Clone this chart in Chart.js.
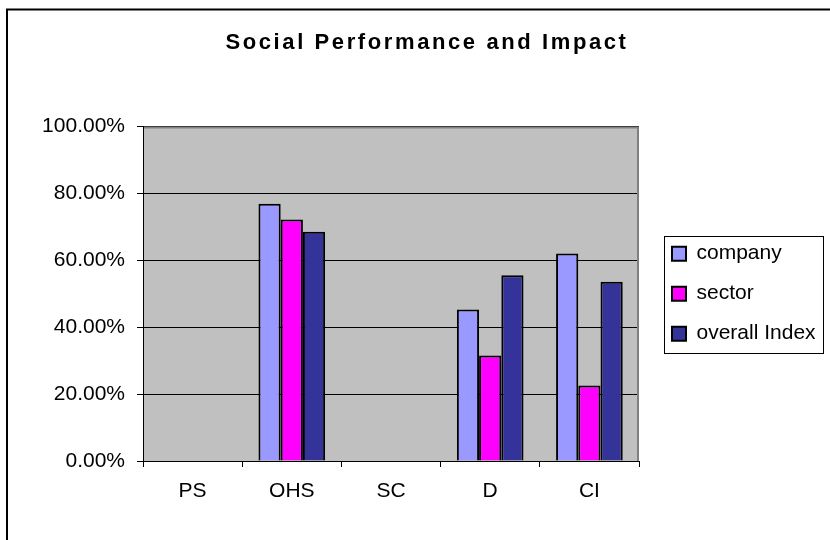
<!DOCTYPE html>
<html>
<head>
<meta charset="utf-8">
<title>Social Performance and Impact</title>
<script src="https://cdn.jsdelivr.net/npm/chart.js@4"></script>
<style>
  html, body { margin: 0; padding: 0; background: #fff; overflow: hidden; }
  #contenedor { width: 830px; height: 540px; }
</style>
</head>
<body>
<div id="contenedor"><canvas id="grafico"></canvas></div>
<script>
// Datos (en %)
const categorias = ['PS', 'OHS', 'SC', 'D', 'CI']
const valoresCompany = [null, 76.9, null, 45.3, 62.0]
const valoresSector = [null, 72.2, null, 31.5, 22.6]
const valoresOverall = [null, 68.5, null, 55.5, 53.6]
const ticksEjeY = [0, 20, 40, 60, 80, 100]

const fuente = '"Liberation Sans", Arial, sans-serif'
const anchoLeyenda = 191

Chart.defaults.color = '#000'
Chart.defaults.font.family = fuente
Chart.defaults.font.size = 21

// Fondo gris del area, marco exterior y borde de la leyenda
const marcoPlugin = {
  id: 'marco',
  afterInit(chart) {
    // el titulo de Excel sale con las letras separadas y algo a la derecha
    const dibujarTitulo = chart.titleBlock.draw.bind(chart.titleBlock)
    chart.titleBlock.draw = () => {
      chart.ctx.save()
      chart.ctx.translate(12, 0)
      chart.ctx.letterSpacing = '2.6px'
      dibujarTitulo()
      chart.ctx.letterSpacing = '0px'
      chart.ctx.restore()
    }
    const ajustarLeyenda = chart.legend.fit.bind(chart.legend)
    chart.legend.fit = () => {
      ajustarLeyenda()
      chart.legend.width = anchoLeyenda
    }
  },
  afterLayout(chart) {
    chart.legend.left += 14
    chart.legend.right += 14
  },
  beforeDraw(chart) {
    const { ctx, chartArea } = chart
    ctx.save()
    ctx.fillStyle = '#fff'
    ctx.fillRect(0, 0, chart.width, chart.height)
    ctx.strokeStyle = '#000'
    ctx.lineWidth = 2
    ctx.beginPath()
    ctx.moveTo(7, chart.height + 5)
    ctx.lineTo(7, 9.5)
    ctx.lineTo(chart.width + 5, 9.5)
    ctx.stroke()
    ctx.fillStyle = '#c0c0c0'
    ctx.fillRect(chartArea.left, chartArea.top, chartArea.width, chartArea.height)
    ctx.restore()
  },
  afterDraw(chart) {
    const { ctx, chartArea } = chart
    ctx.save()
    ctx.strokeStyle = '#808080'
    ctx.lineWidth = 2
    ctx.beginPath()
    ctx.moveTo(chartArea.left + 1, chartArea.top + 1)
    ctx.lineTo(chartArea.right - 1, chartArea.top + 1)
    ctx.lineTo(chartArea.right - 1, chartArea.bottom)
    ctx.stroke()
    const leyenda = chart.legend
    const centro = (leyenda.top + leyenda.bottom) / 2
    ctx.strokeStyle = '#000'
    ctx.lineWidth = 1
    ctx.strokeRect(leyenda.left + 11.5, Math.round(centro - 58) + 0.5, 159, 117)
    ctx.restore()
  }
}

function crearSerie(nombre, valores, color) {
  return {
    label: nombre,
    data: valores,
    backgroundColor: color,
    borderColor: '#000',
    borderWidth: 2,
    categoryPercentage: 0.672,
    barPercentage: 1
  }
}

new Chart(document.getElementById('grafico'), {
  type: 'bar',
  data: {
    labels: categorias,
    datasets: [
      crearSerie('company', valoresCompany, '#9999ff'),
      crearSerie('sector', valoresSector, '#ff00ff'),
      crearSerie('overall Index', valoresOverall, '#333399')
    ]
  },
  options: {
    responsive: true,
    maintainAspectRatio: false,
    animation: false,
    layout: { padding: 0 },
    plugins: {
      tooltip: { enabled: false },
      title: {
        display: true,
        text: 'Social Performance and Impact',
        color: '#000',
        font: { family: fuente, size: 22, weight: 'bold' },
        padding: { top: 30, bottom: 70 }
      },
      legend: {
        position: 'right',
        fullSize: false,
        labels: {
          boxWidth: 14,
          boxHeight: 14,
          padding: 19,
          color: '#000',
          font: { family: fuente, size: 21 }
        }
      }
    },
    scales: {
      x: {
        grid: {
          offset: true,
          drawOnChartArea: false,
          drawTicks: true,
          tickLength: 6,
          color: '#000'
        },
        border: { display: true, color: '#000', width: 1 },
        ticks: { padding: 12, color: '#000', font: { family: fuente, size: 21 } },
        afterFit: escala => { escala.height = 79 }
      },
      y: {
        min: 0,
        max: 100,
        afterBuildTicks: escala => { escala.ticks = ticksEjeY.map(v => ({ value: v })) },
        grid: {
          color: '#000',
          lineWidth: 1,
          tickLength: 6
        },
        border: { display: true, color: '#000', width: 1 },
        ticks: {
          padding: 12,
          color: '#000',
          font: { family: fuente, size: 21 },
          callback: valor => valor.toFixed(2) + '%'
        },
        afterFit: escala => { escala.width = 143 }
      }
    }
  },
  plugins: [marcoPlugin]
})
</script>
</body>
</html>
